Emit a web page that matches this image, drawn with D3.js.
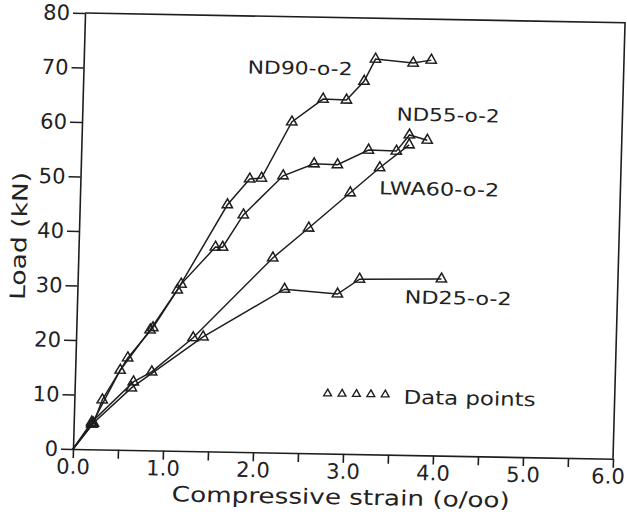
<!DOCTYPE html>
<html>
<head>
<meta charset="utf-8">
<script src="https://cdn.jsdelivr.net/npm/d3@7/dist/d3.min.js"></script>
<style>
  body { margin: 0; background: #fff; }
  text { font-family: "DejaVu Sans", sans-serif; fill: #222; }
</style>
</head>
<body>
<svg id="chart" width="627" height="522"></svg>
<script>
// tick values
var xTicks = [0, 0.5, 1, 1.5, 2, 2.5, 3, 3.5, 4, 4.5, 5, 5.5, 6];
var yTicks = [0, 10, 20, 30, 40, 50, 60, 70, 80];

// series (strain in o/oo, load in kN)
var nd90_strain = [0, 0.20, 0.50, 0.82, 1.11, 1.64, 1.88, 2.01, 2.33, 2.67, 2.93, 3.12, 3.24, 3.66, 3.86];
var nd90_load   = [0, 4.6, 14.6, 22.1, 29.5, 45.3, 50.1, 50.3, 60.7, 65.0, 64.9, 68.4, 72.5, 71.9, 72.5];

var nd55_strain = [0, 0.22, 0.31, 0.58, 0.85, 1.15, 1.52, 1.60, 1.82, 2.25, 2.59, 2.85, 3.19, 3.50, 3.64, 3.84];
var nd55_load   = [0, 4.8, 9.1, 16.9, 22.5, 30.6, 37.5, 37.5, 43.5, 50.8, 53.1, 53.0, 55.8, 55.7, 58.7, 57.8];

var lwa60_strain = [0, 0.20, 0.65, 0.85, 1.30, 2.16, 2.55, 3.00, 3.32, 3.64];
var lwa60_load   = [0, 5.0, 12.5, 14.4, 20.8, 35.7, 41.3, 47.9, 52.6, 56.9];

var nd25_strain = [0, 0.21, 0.63, 1.41, 2.30, 2.89, 3.13, 4.04];
var nd25_load   = [0, 4.7, 11.4, 21.0, 30.0, 29.3, 32.1, 32.4];

var seriesNames = ["ND90-o-2", "ND55-o-2", "LWA60-o-2", "ND25-o-2"];

var svg = d3.select("#chart");

var x = d3.scaleLinear().domain([0, 6]).range([73, 613]);
var y = d3.scaleLinear().domain([0, 80]).range([449, 13]);

// the scan is slightly skewed, so the whole chart gets a small tilt
var g = svg.append("g")
  .attr("transform", "translate(73,449) matrix(1,0.018,-0.0276,1,0,0) translate(-73,-449)");

var ink = "#1e1e1e";

// axes
var xAxis = d3.axisBottom(x)
  .tickValues(xTicks)
  .tickSize(9)
  .tickPadding(1)
  .tickSizeOuter(0)
  .tickFormat(function(d) { return d % 1 === 0 ? d3.format(".1f")(d) : ""; });

var yAxis = d3.axisLeft(y)
  .tickValues(yTicks)
  .tickSize(12)
  .tickPadding(3)
  .tickSizeOuter(0);

var gx = g.append("g").attr("transform", "translate(0,449)").call(xAxis);
var gy = g.append("g").attr("transform", "translate(73,0)").call(yAxis);

[gx, gy].forEach(function(a) {
  a.selectAll("path, line").attr("stroke", ink).attr("stroke-width", 1.6);
  a.selectAll("text")
    .attr("font-size", 21)
    .attr("font-family", "DejaVu Sans, sans-serif")
    .attr("fill", "#222");
});

// last label sits on the page edge, nudge it in a bit
gx.selectAll(".tick text").filter(function(d) { return d === 6; }).attr("dx", -5);

// top and right border of the frame
g.append("path")
  .attr("d", "M" + x(0) + "," + y(80) + "L" + x(6) + "," + y(80) + "L" + x(6) + "," + y(0))
  .attr("fill", "none")
  .attr("stroke", ink)
  .attr("stroke-width", 1.6);

// curves
var line = d3.line()
  .x(function(d) { return x(d[0]); })
  .y(function(d) { return y(d[1]); });

var allSeries = [
  d3.zip(nd90_strain, nd90_load),
  d3.zip(nd55_strain, nd55_load),
  d3.zip(lwa60_strain, lwa60_load),
  d3.zip(nd25_strain, nd25_load)
];

var tri = d3.symbol().type(d3.symbolTriangle).size(46);

allSeries.forEach(function(pts) {
  g.append("path")
    .datum(pts)
    .attr("d", line)
    .attr("fill", "none")
    .attr("stroke", ink)
    .attr("stroke-width", 1.5);

  g.selectAll(null)
    .data(pts.slice(1))
    .enter()
    .append("path")
    .attr("d", tri)
    .attr("transform", function(d) { return "translate(" + x(d[0]) + "," + y(d[1]) + ")"; })
    .attr("fill", "none")
    .attr("stroke", ink)
    .attr("stroke-width", 1.5);
});

// curve labels
var labelPos = [[289.5, 64], [438.8, 108.4], [431.8, 182.5], [453.8, 291]];
var labelLen = [105, 103, 120, 107];
seriesNames.forEach(function(name, i) {
  g.append("text")
    .attr("x", labelPos[i][0])
    .attr("y", labelPos[i][1])
    .attr("dy", "0.36em")
    .attr("text-anchor", "middle")
    .attr("font-size", 18)
    .attr("textLength", labelLen[i])
    .attr("lengthAdjust", "spacingAndGlyphs")
    .text(name);
});

// legend
var legTri = d3.symbol().type(d3.symbolTriangle).size(26);
g.selectAll(null)
  .data([0, 1, 2, 3, 4])
  .enter()
  .append("path")
  .attr("d", legTri)
  .attr("transform", function(d) { return "translate(" + (326 + d * 14.4) + ",389)"; })
  .attr("fill", "none")
  .attr("stroke", ink)
  .attr("stroke-width", 1.4);

g.append("text")
  .attr("x", 402)
  .attr("y", 391)
  .attr("dy", "0.36em")
  .attr("font-size", 19)
  .attr("textLength", 132)
  .attr("lengthAdjust", "spacingAndGlyphs")
  .text("Data  points");

// axis titles
g.append("text")
  .attr("x", 342)
  .attr("y", 492)
  .attr("dy", "0.36em")
  .attr("text-anchor", "middle")
  .attr("font-size", 21)
  .attr("textLength", 338)
  .attr("lengthAdjust", "spacingAndGlyphs")
  .text("Compressive strain (o/oo)");

g.append("text")
  .attr("transform", "translate(13,237) rotate(-90)")
  .attr("dy", "0.36em")
  .attr("text-anchor", "middle")
  .attr("font-size", 21)
  .attr("textLength", 128)
  .attr("lengthAdjust", "spacingAndGlyphs")
  .text("Load (kN)");
</script>
</body>
</html>
